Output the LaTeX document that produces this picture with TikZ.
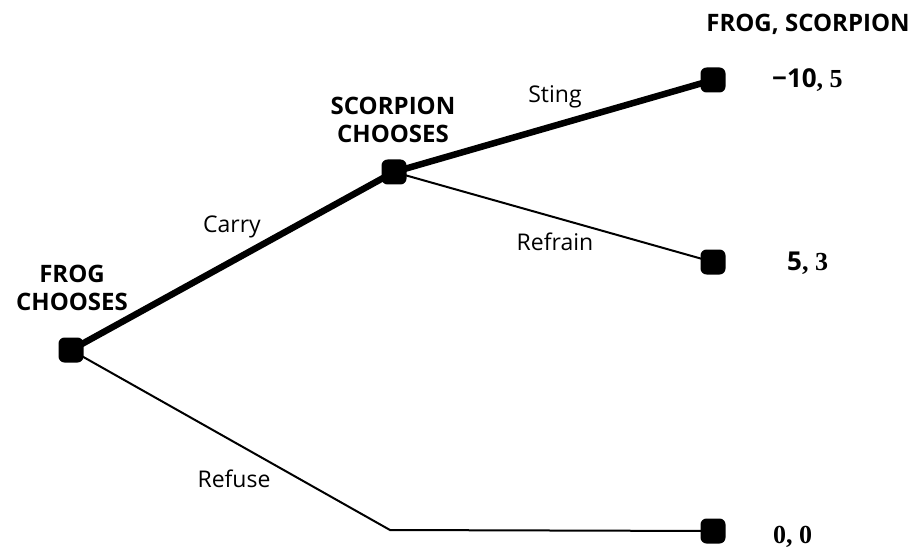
\documentclass[tikz,border=0pt]{standalone}
\usepackage{fontspec}
\setmainfont{Liberation Serif}
\setsansfont{Open Sans}
\begin{document}
\begin{tikzpicture}[x=1pt,y=-1pt,
  dec/.style={fill=black,rounded corners=6pt,minimum size=25pt,inner sep=0pt},
  heavy/.style={line width=6.5pt},
  light/.style={line width=2pt},
  lab/.style={font=\sffamily\fontsize{23}{24}\selectfont,inner sep=0pt,anchor=base},
  head/.style={font=\sffamily\bfseries\fontsize{24}{28}\selectfont,align=center,inner sep=0pt,anchor=base},
  pay/.style={font=\fontsize{26}{28}\selectfont\bfseries,anchor=base west,inner sep=0pt}]
\useasboundingbox (0,0) rectangle (920,548);
\node[dec] (f) at (71,350) {};
\node[dec] (s) at (394,172) {};
\node[dec] (t1) at (713,80) {};
\node[dec] (t2) at (713,262) {};
\node[dec] (t3) at (713,531) {};
\coordinate (k) at (390,530);
\draw[heavy] (f.center) -- (s.center) -- (t1.center);
\draw[light] (s.center) -- (t2.center);
\draw[light] (f.center) -- (k) -- (t3.center);
\node[head] (fh) at (72,310) {FROG\\CHOOSES};
\node[head] (sh) at (393,143) {SCORPION\\CHOOSES};
\node[head] (ph) at (808,32) {FROG, SCORPION};
\node[lab] (c) at (232,232) {Carry};
\node[lab] (st) at (555,103) {Sting};
\node[lab] (rf) at (555,250) {Refrain};
\node[lab] (ru) at (234,487) {Refuse};
\node[pay] (p1) at (772,88) {\sffamily −10\rmfamily, 5};
\node[pay] (p2) at (787,270) {\sffamily 5\rmfamily, 3};
\node[pay] (p3) at (773,543) {0, 0};
\end{tikzpicture}
\end{document}
